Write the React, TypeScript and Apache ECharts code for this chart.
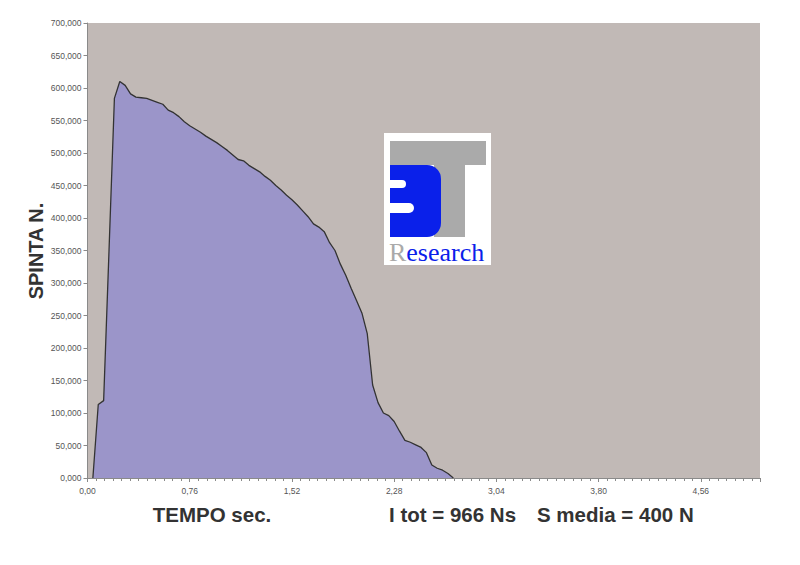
import React, { useEffect, useRef } from "react";
import * as echarts from "echarts";

// time (s)
const times = [
  0.04, 0.08, 0.12, 0.16, 0.2, 0.24, 0.28, 0.32, 0.36, 0.4,
  0.44, 0.48, 0.52, 0.56, 0.6, 0.64, 0.68, 0.72, 0.76, 0.8,
  0.84, 0.88, 0.92, 0.96, 1.0, 1.04, 1.08, 1.12, 1.16, 1.2,
  1.24, 1.28, 1.32, 1.36, 1.4, 1.44, 1.48, 1.52, 1.56, 1.6,
  1.64, 1.68, 1.72, 1.76, 1.8, 1.84, 1.88, 1.92, 1.96, 2.0,
  2.04, 2.08, 2.12, 2.16, 2.2, 2.24, 2.28, 2.32, 2.36, 2.4,
  2.44, 2.48, 2.52, 2.56, 2.6, 2.64, 2.68, 2.72,
];
// thrust values
const thrust = [
  0, 113000, 119000, 350000, 584000, 610000, 604000, 591000, 586000, 585000,
  584000, 581000, 578000, 575000, 566000, 562000, 556000, 548000, 542000, 537000,
  532000, 526000, 521000, 516000, 510000, 504000, 497000, 490000, 488000, 481000,
  476000, 471000, 464000, 458000, 450000, 443000, 435000, 428000, 420000, 411000,
  402000, 391000, 386000, 379000, 362000, 350000, 329000, 312000, 292000, 273000,
  254000, 222000, 143000, 116000, 100000, 96000, 87000, 72000, 58000, 55000,
  51000, 47000, 39000, 20000, 15000, 12000, 7000, 0,
];
const xTickStep = 0.76;
const yTickStep = 50000;
const yMax = 700000;
const xMax = 5.0;
const yTitle = "SPINTA N.";
const xTitle = "TEMPO sec.";
const impulseText = "I tot = 966 Ns";
const meanText = "S media = 400 N";

export default function App() {
  const ref = useRef<HTMLDivElement>(null);
  useEffect(() => {
    if (!ref.current) return;
    const chart = echarts.init(ref.current, undefined, { renderer: "svg" });
    const data = times.map((t, i) => [t, thrust[i]]);
    const blue = "#0A20EA";
    const grey = "#AAAAAA";
    const bx = 384;
    const by = 133;
    chart.setOption({
      animation: false,
      backgroundColor: "#ffffff",
      grid: {
        left: 87.5,
        right: 40,
        top: 23,
        bottom: 87,
        show: true,
        backgroundColor: "#C1B9B6",
        borderWidth: 0,
      },
      xAxis: {
        type: "value",
        min: 0,
        max: xMax,
        interval: xTickStep,
        axisLine: { show: true, lineStyle: { color: "#8a8a8a", width: 1 } },
        axisTick: { show: true, length: 4, lineStyle: { color: "#8a8a8a" } },
        minorTick: { show: true, splitNumber: 12, length: 3, lineStyle: { color: "#8a8a8a" } },
        splitLine: { show: false },
        axisLabel: {
          margin: 8,
          fontSize: 8.5,
          color: "#555",
          fontFamily: "Liberation Sans",
          showMaxLabel: false,
          formatter: (v: number) => {
            const r = v / xTickStep;
            if (Math.abs(r - Math.round(r)) > 1e-6) return "";
            return v.toFixed(2).replace(".", ",");
          },
        },
      },
      yAxis: {
        type: "value",
        min: 0,
        max: yMax,
        interval: yTickStep,
        axisLine: { show: true, lineStyle: { color: "#8a8a8a", width: 1 } },
        axisTick: { show: true, length: 4, lineStyle: { color: "#8a8a8a" } },
        splitLine: { show: false },
        axisLabel: {
          margin: 6,
          fontSize: 8.5,
          color: "#555",
          fontFamily: "Liberation Sans",
          formatter: (v: number) => {
            const th = Math.floor(v / 1000);
            const rest = String(Math.round(v % 1000)).padStart(3, "0");
            return th + "," + rest;
          },
        },
      },
      series: [
        {
          type: "line",
          data,
          symbol: "none",
          lineStyle: { color: "#333333", width: 1.3 },
          areaStyle: { color: "#9B95C9", opacity: 1 },
          z: 2,
        },
      ],
      graphic: [
        {
          type: "text",
          x: 36,
          y: 251,
          rotation: Math.PI / 2,
          style: {
            text: yTitle,
            fontSize: 20,
            fontWeight: "bold",
            fontFamily: "Liberation Sans",
            fill: "#333",
            textAlign: "center",
            textVerticalAlign: "middle",
          },
        },
        {
          type: "text",
          x: 212,
          y: 514,
          style: {
            text: xTitle,
            fontSize: 20.5,
            fontWeight: "bold",
            fontFamily: "Liberation Sans",
            fill: "#333",
            textAlign: "center",
            textVerticalAlign: "middle",
          },
        },
        {
          type: "text",
          x: 389,
          y: 514,
          style: {
            text: impulseText,
            fontSize: 20.5,
            fontWeight: "bold",
            fontFamily: "Liberation Sans",
            fill: "#333",
            textAlign: "left",
            textVerticalAlign: "middle",
          },
        },
        {
          type: "text",
          x: 537,
          y: 514,
          style: {
            text: meanText,
            fontSize: 20.5,
            fontWeight: "bold",
            fontFamily: "Liberation Sans",
            fill: "#333",
            textAlign: "left",
            textVerticalAlign: "middle",
          },
        },
        // logo
        {
          type: "group",
          x: bx,
          y: by,
          z: 10,
          children: [
            { type: "rect", shape: { x: 0, y: 0, width: 107, height: 132 }, style: { fill: "#ffffff" } },
            { type: "rect", shape: { x: 6, y: 8, width: 96, height: 24 }, style: { fill: grey } },
            { type: "rect", shape: { x: 50, y: 32, width: 31, height: 72 }, style: { fill: grey } },
            { type: "rect", shape: { x: 6, y: 32, width: 51, height: 72, r: [0, 14, 14, 0] }, style: { fill: blue } },
            { type: "rect", shape: { x: 6, y: 47, width: 16, height: 8, r: [0, 4, 4, 0] }, style: { fill: "#ffffff" } },
            { type: "rect", shape: { x: 6, y: 70, width: 24, height: 10, r: [0, 5, 5, 0] }, style: { fill: "#ffffff" } },
            {
              type: "text",
              x: 5,
              y: 132,
              style: {
                text: "{g|R}{b|esearch}",
                fontFamily: "Liberation Serif",
                fontSize: 26,
                textVerticalAlign: "bottom",
                rich: {
                  g: { fill: grey, fontSize: 26, fontFamily: "Liberation Serif" },
                  b: { fill: blue, fontSize: 26, fontFamily: "Liberation Serif" },
                },
              },
            },
          ],
        },
      ],
    });
    return () => chart.dispose();
  }, []);
  return (
    <div
      ref={ref}
      style={{ position: "absolute", left: 0, top: 0, width: 800, height: 565 }}
    />
  );
}
